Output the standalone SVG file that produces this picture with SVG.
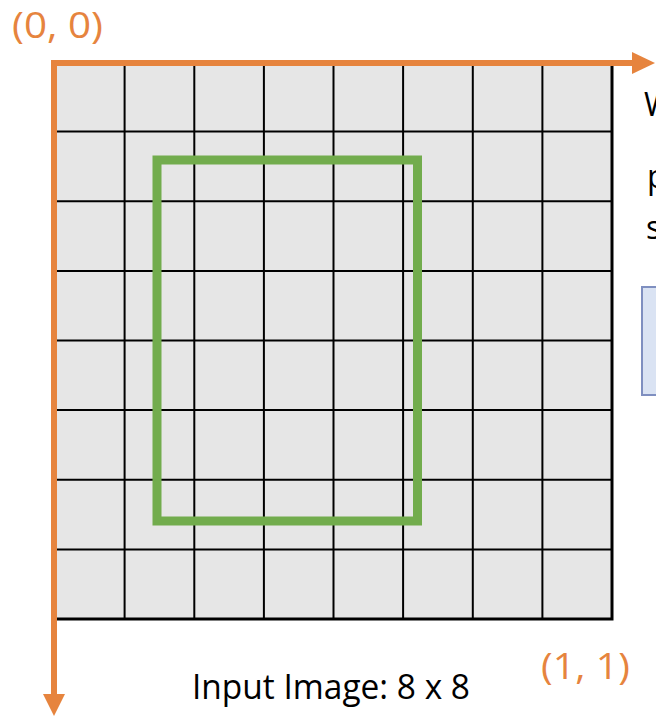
<svg xmlns="http://www.w3.org/2000/svg" width="656" height="717" viewBox="0 0 656 717">
  <style>
    .grid-line { stroke: #000; stroke-width: 2; }
    .axis { stroke: #E6843E; stroke-width: 6; fill: none; }
    .axis-head { fill: #E6843E; }
    .coord { font-family: "Open Sans", "Liberation Sans", sans-serif; font-size: 37px; fill: #E6843E; }
    .label { font-family: "Open Sans", "Liberation Sans", sans-serif; font-size: 34px; fill: #000; }
    .side { font-family: "Open Sans", "Liberation Sans", sans-serif; font-size: 32px; fill: #000; }
  </style>
  <rect width="656" height="717" fill="#ffffff"/>

  <g id="input-grid">
    <rect x="55" y="62" width="557" height="557" fill="#E6E6E6"/>
    <g class="grid-line">
      <line x1="124.6" y1="62" x2="124.6" y2="619"/>
      <line x1="194.3" y1="62" x2="194.3" y2="619"/>
      <line x1="263.9" y1="62" x2="263.9" y2="619"/>
      <line x1="333.5" y1="62" x2="333.5" y2="619"/>
      <line x1="403.1" y1="62" x2="403.1" y2="619"/>
      <line x1="472.8" y1="62" x2="472.8" y2="619"/>
      <line x1="542.4" y1="62" x2="542.4" y2="619"/>
      <line x1="55" y1="131.6" x2="612" y2="131.6"/>
      <line x1="55" y1="201.3" x2="612" y2="201.3"/>
      <line x1="55" y1="270.9" x2="612" y2="270.9"/>
      <line x1="55" y1="340.5" x2="612" y2="340.5"/>
      <line x1="55" y1="410.1" x2="612" y2="410.1"/>
      <line x1="55" y1="479.8" x2="612" y2="479.8"/>
      <line x1="55" y1="549.4" x2="612" y2="549.4"/>
    </g>
    <rect x="55" y="62" width="557" height="557" fill="none" stroke="#000" stroke-width="3"/>
  </g>

  <g id="roi-box">
    <rect x="157" y="160" width="260.5" height="361" fill="none" stroke="#72AC4D" stroke-width="9"/>
  </g>

  <g id="connectors">
    <line class="axis" x1="52" y1="63" x2="636" y2="63"/>
    <polygon class="axis-head" points="632,52 655,63 632,74"/>
    <line class="axis" x1="54" y1="60" x2="54" y2="697"/>
    <polygon class="axis-head" points="43,694 54,716 65,694"/>
  </g>

  <g id="origin-label">
    <text class="coord" x="12" y="38" textLength="91" lengthAdjust="spacingAndGlyphs">(0, 0)</text>
  </g>
  <g id="end-label">
    <text class="coord" x="541" y="679" textLength="89" lengthAdjust="spacingAndGlyphs">(1, 1)</text>
  </g>
  <g id="caption">
    <text class="label" x="192" y="699" textLength="278" lengthAdjust="spacingAndGlyphs">Input Image: 8 x 8</text>
  </g>

  <g id="side-text">
    <text class="side" x="644" y="116">W</text>
    <text class="side" x="647" y="188">p</text>
    <text class="side" x="646" y="239">s</text>
  </g>
  <g id="side-box">
    <rect x="642" y="287" width="30" height="108" fill="#DAE3F3" stroke="#7F8FC0" stroke-width="2"/>
  </g>
</svg>
